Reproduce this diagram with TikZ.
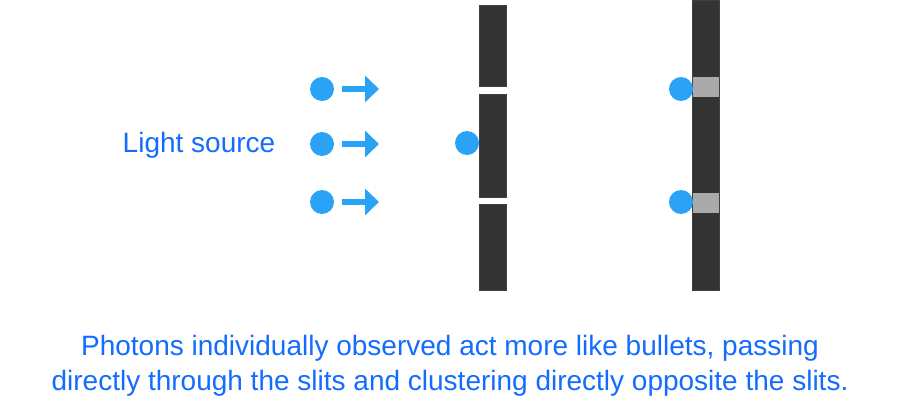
\documentclass[tikz,border=0pt]{standalone}
\usepackage{fontspec}
\setmainfont{Liberation Sans}
\usetikzlibrary{arrows.meta}
\definecolor{photon}{RGB}{42,163,247}
\definecolor{caption}{RGB}{20,108,255}
\definecolor{slitwall}{RGB}{51,51,51}
\definecolor{hitmark}{RGB}{170,170,170}

\begin{document}
\begin{tikzpicture}[x=1pt,y=-1pt,>={Triangle[length=14pt,width=26pt]}]
    \tikzstyle{photon dot}=[circle, fill=photon, inner sep=0pt, minimum size=24pt]
    \tikzstyle{beam}=[->, draw=photon, fill=photon, line width=6pt, shorten <=20pt]
    \tikzstyle{wall}=[fill=slitwall, draw=black!75, line width=0.6pt]
    \tikzstyle{label}=[text=caption, inner sep=0pt, anchor=base, font=\fontsize{28}{35}\selectfont]

    \fill[white] (0,0) rectangle (900,420);
    \useasboundingbox (0,0) rectangle (900,420);

    % barrier with two slits
    \path[wall] (479,5) rectangle (506,86);
    \path[wall] (479,94) rectangle (506,197);
    \path[wall] (479,204) rectangle (506,290);

    % detector screen
    \path[wall] (692,0) rectangle (719,290);
    \fill[hitmark] (692.5,77) rectangle (718.5,97);
    \fill[hitmark] (692.5,193) rectangle (718.5,213);

    % source photons
    \node[photon dot] (s1) at (322,89) {};
    \node[photon dot] (s2) at (322,144) {};
    \node[photon dot] (s3) at (322,202) {};
    \coordinate (t1) at (379,89);
    \coordinate (t2) at (379,144);
    \coordinate (t3) at (379,202);
    \draw[beam] (s1.center) -- (t1);
    \draw[beam] (s2.center) -- (t2);
    \draw[beam] (s3.center) -- (t3);

    % photons at barrier and screen
    \node[photon dot] (m1) at (467,143) {};
    \node[photon dot] (h1) at (681,89) {};
    \node[photon dot] (h2) at (681,202) {};

    \node[label] (src) at (199,152) {Light source};
    \node[label] (cap1) at (450,355) {Photons individually observed act more like bullets, passing};
    \node[label] (cap2) at (450,390) {directly through the slits and clustering directly opposite the slits.};
\end{tikzpicture}
\end{document}
